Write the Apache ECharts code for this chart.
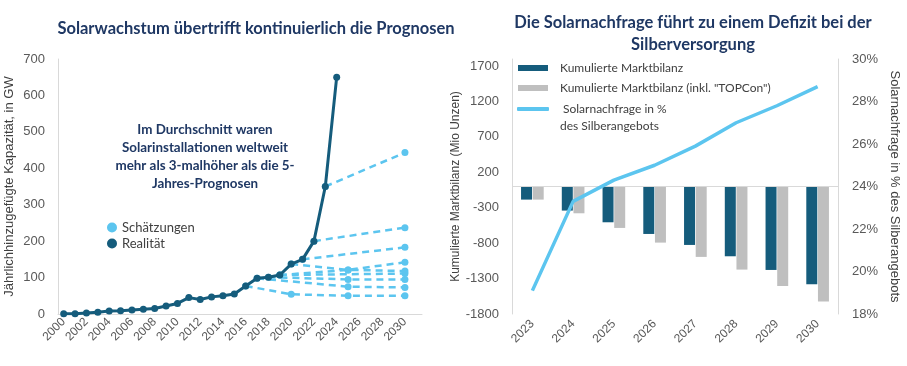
<!DOCTYPE html>
<html>
<head>
<meta charset="utf-8">
<script src="https://cdn.jsdelivr.net/npm/echarts@6/dist/echarts.min.js"></script>
<style>
html,body{margin:0;padding:0;background:#fff;}
#c{width:907px;height:366px;}
</style>
</head>
<body>
<div id="c"></div>
<script>
// ---------- Left chart data ----------
const years = ['2000','2001','2002','2003','2004','2005','2006','2007','2008','2009','2010',
  '2011','2012','2013','2014','2015','2016','2017','2018','2019','2020',
  '2021','2022','2023','2024','2025','2026','2027','2028','2029','2030','2031'];
const realityValues = [1,1,3,5,8,9,11,13,15,22,29,45,40,47,50,55,77,98,101,107,137,150,200,350,650];
const estimate1 = [['2016',77],['2020',54],['2025',50],['2030',50]];
const estimate2 = [['2017',98],['2025',75],['2030',73]];
const estimate3 = [['2018',101],['2025',95],['2030',95]];
const estimate4 = [['2019',107],['2030',111]];
const estimate5 = [['2019',107],['2025',121],['2030',118]];
const estimate6 = [['2020',137],['2025',121],['2030',142]];
const estimate7 = [['2021',150],['2030',183]];
const estimate8 = [['2022',200],['2030',237]];
const estimate9 = [['2023',350],['2030',443]];
const leftYTicks = [0,100,200,300,400,500,600,700];

// ---------- Right chart data ----------
const demandYears = ['2023','2024','2025','2026','2027','2028','2029','2030'];
const marketBalance = [-185,-340,-505,-670,-825,-985,-1178,-1381];
const marketBalanceTopcon = [-185,-378,-585,-792,-994,-1173,-1404,-1625];
const solarShare = [19.1,23.3,24.3,25.0,25.9,27.0,27.8,28.7];
const rightYLabels = [-1800,-1300,-800,-300,200,700,1200,1700];

const DARK = '#155C7C', LIGHT = '#5CC5EF', GRAY = '#BFBFBF', NAVY = '#1F3864', LBL = '#595959';
const TF = 'Lato';
const AF = 'Liberation Sans';

const estimates = [estimate1,estimate2,estimate3,estimate4,estimate5,estimate6,estimate7,estimate8,estimate9];

const series = [];
estimates.forEach(function(e){
  series.push({
    name:'Schätzungen', type:'line', xAxisIndex:0, yAxisIndex:0, data:e,
    symbol:'circle', symbolSize:7, showAllSymbol:true,
    lineStyle:{color:LIGHT, width:2.5, type:[7,5]},
    itemStyle:{color:LIGHT}, z:2, animation:false
  });
});
series.push({
  name:'Realität', type:'line', xAxisIndex:0, yAxisIndex:0, data:realityValues,
  symbol:'circle', symbolSize:7, showAllSymbol:true,
  lineStyle:{color:DARK, width:3}, itemStyle:{color:DARK}, z:5, animation:false
});
series.push({
  name:'Kumulierte Marktbilanz', type:'bar', xAxisIndex:1, yAxisIndex:1, data:marketBalance,
  barWidth:11, barGap:'6%', itemStyle:{color:DARK}, animation:false,
  markLine:{silent:true, symbol:'none', label:{show:false}, lineStyle:{color:'#D9D9D9', width:1, type:'solid'}, data:[{yAxis:0}], animation:false}
});
series.push({
  name:'Kumulierte Marktbilanz (inkl. "TOPCon")', type:'bar', xAxisIndex:1, yAxisIndex:1, data:marketBalanceTopcon,
  barWidth:11, barGap:'6%', itemStyle:{color:GRAY}, animation:false
});
series.push({
  name:'Solarnachfrage in %', type:'line', xAxisIndex:1, yAxisIndex:2, data:solarShare,
  symbol:'none', lineStyle:{color:LIGHT, width:3.5}, itemStyle:{color:LIGHT}, z:6, animation:false
});

const chart = echarts.init(document.getElementById('c'), null, {renderer:'canvas'});
chart.setOption({
  backgroundColor:'#fff',
  animation:false,
  title:[
    {text:'Solarwachstum übertrifft kontinuierlich die Prognosen', left:251, top:15, textAlign:'center',
     textStyle:{fontFamily:TF, fontWeight:'bold', fontSize:16.5, color:NAVY}},
    {text:'Die Solarnachfrage führt zu einem Defizit bei der\nSilberversorgung', left:688, top:7, textAlign:'center',
     textStyle:{fontFamily:TF, fontWeight:'bold', fontSize:16.5, color:NAVY, lineHeight:22}}
  ],
  legend:[
    {data:['Schätzungen','Realität'], orient:'vertical', left:107, top:221, padding:0, icon:'circle',
     itemWidth:10, itemHeight:10, itemGap:3, textStyle:{fontFamily:TF, fontSize:13, color:'#404040'}},
    {data:['Kumulierte Marktbilanz','Kumulierte Marktbilanz (inkl. "TOPCon")'], orient:'vertical', left:518, top:62, padding:0,
     icon:'rect', itemWidth:30, itemHeight:6, itemGap:8, textStyle:{fontFamily:TF, fontSize:12, color:'#404040', padding:[0,0,0,7]}},
    {data:['Solarnachfrage in %'], orient:'vertical', left:517, top:103, padding:0,
     icon:'roundRect', itemWidth:32, itemHeight:4, textStyle:{fontFamily:TF, fontSize:12, color:'#404040', padding:[0,0,0,9]}}
  ],
  graphic:[
    {type:'text', x:560, y:126, style:{text:'des Silberangebots', font:'12px Lato', fill:'#404040', textVerticalAlign:'middle'}},
    {type:'text', x:205, y:121, style:{text:'Im Durchschnitt waren\nSolarinstallationen weltweit\nmehr als 3-malhöher als die 5-\nJahres-Prognosen',
      font:'bold 13.4px Lato', fill:NAVY, textAlign:'center', lineHeight:17.8}}
  ],
  grid:[
    {left:58, top:59, width:364, height:255},
    {left:512, top:59, width:326, height:255}
  ],
  xAxis:[
    {type:'category', gridIndex:0, data:years, boundaryGap:true,
     axisLine:{lineStyle:{color:'#D9D9D9'}}, axisTick:{show:false},
     axisLabel:{interval:1, rotate:45, fontFamily:AF, fontSize:12, color:LBL, margin:6}},
    {type:'category', gridIndex:1, data:demandYears, boundaryGap:true,
     axisLine:{show:false}, axisTick:{show:false},
     axisLabel:{rotate:45, fontFamily:AF, fontSize:12, color:LBL, margin:8}}
  ],
  yAxis:[
    {type:'value', gridIndex:0, min:0, max:700, interval:100,
     name:'Jährlichhinzugefügte Kapazität, in GW', nameLocation:'middle', nameGap:42,
     nameTextStyle:{fontFamily:AF, fontSize:13, color:'#404040'},
     axisLine:{show:true, lineStyle:{color:'#D9D9D9'}}, axisTick:{show:false}, splitLine:{show:false},
     axisLabel:{fontFamily:AF, fontSize:13, color:LBL, margin:13,
       formatter:function(v){return leftYTicks.indexOf(v)>=0 ? String(v) : '';}}},
    {type:'value', gridIndex:1, min:-1800, max:1800, interval:100,
     name:'Kumulierte Marktbilanz (Mio Unzen)', nameLocation:'middle', nameGap:50,
     nameTextStyle:{fontFamily:AF, fontSize:12, color:'#404040'},
     axisLine:{show:true, lineStyle:{color:'#D9D9D9'}}, axisTick:{show:false}, splitLine:{show:false},
     axisLabel:{fontFamily:AF, fontSize:13, color:LBL, margin:13,
       formatter:function(v){return rightYLabels.indexOf(v)>=0 ? String(v) : '';}}},
    {type:'value', gridIndex:1, position:'right', min:18, max:30, interval:2,
     name:'Solarnachfrage in % des Silberangebots', nameLocation:'middle', nameGap:50, nameRotate:-90,
     nameTextStyle:{fontFamily:AF, fontSize:13, color:'#404040'},
     axisLine:{show:true, lineStyle:{color:'#D9D9D9'}}, axisTick:{show:false}, splitLine:{show:false},
     axisLabel:{fontFamily:AF, fontSize:13, color:LBL, margin:14, formatter:'{value}%'}}
  ],
  series:series
});
</script>
</body>
</html>
